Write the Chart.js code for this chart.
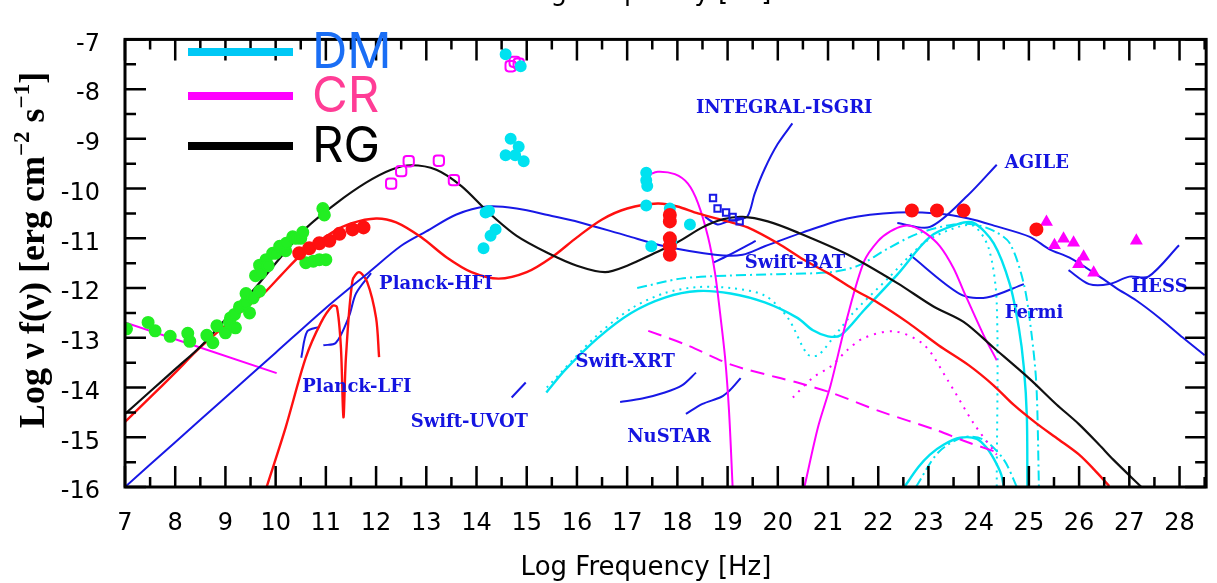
<!DOCTYPE html>
<html>
<head>
<meta charset="utf-8">
<script src="https://cdn.jsdelivr.net/npm/chart.js@4.4.1/dist/chart.umd.min.js"></script>
<style>
  html, body { margin: 0; padding: 0; background: #fff; }
</style>
</head>
<body>
<canvas id="sed" width="1217" height="583"></canvas>
<script>
// model curves, [log nu, log nu f(nu)]
const blackCurve = [[7,-14.53],[7.5,-14.08],[8,-13.63],[8.5,-13.18],[9,-12.63],[9.54,-12.06],[10,-11.5],[10.6,-10.8],[11.2,-10.3],[11.8,-9.88],[12.3,-9.62],[12.7,-9.53],[13.2,-9.62],[13.7,-9.95],[14.24,-10.48],[14.8,-10.95],[15.43,-11.3],[16,-11.55],[16.56,-11.68],[17,-11.55],[17.5,-11.32],[18,-11.08],[18.5,-10.78],[18.9,-10.62],[19.3,-10.57],[19.8,-10.66],[20.39,-10.88],[21.38,-11.32],[22.38,-11.9],[23.1,-12.37],[23.7,-12.68],[24.3,-13.2],[25.02,-13.83],[25.55,-14.34],[26,-14.74],[26.4,-15.15],[26.68,-15.45],[27.24,-16]];
const redCurve = [[7,-14.69],[7.5,-14.2],[8,-13.7],[8.49,-13.2],[9,-12.75],[9.5,-12.32],[9.81,-12.06],[10.1,-11.75],[10.51,-11.33],[11.13,-10.88],[11.5,-10.7],[12,-10.6],[12.4,-10.68],[12.9,-10.98],[13.4,-11.38],[13.9,-11.68],[14.44,-11.81],[15,-11.68],[15.5,-11.38],[16,-10.98],[16.5,-10.62],[17,-10.4],[17.61,-10.3],[18,-10.36],[18.41,-10.5],[19,-10.66],[19.4,-10.78],[20,-11.1],[20.5,-11.42],[21,-11.7],[21.5,-12.02],[22,-12.3],[22.6,-12.7],[23.2,-13.15],[23.8,-13.55],[24.3,-13.96],[24.7,-14.35],[25.15,-14.72],[25.6,-15.05],[26,-15.35],[26.3,-15.65],[26.6,-15.98]];
const blueCurve = [[7,-16],[8,-15.1],[9,-14.2],[10,-13.3],[11,-12.4],[11.86,-11.68],[12.5,-11.15],[13,-10.86],[13.6,-10.52],[14.2,-10.36],[14.8,-10.4],[15.5,-10.55],[16.03,-10.67],[17,-10.95],[17.75,-11.16],[18.75,-11.33],[19.3,-11.33],[19.74,-11.16],[20.5,-10.88],[21.38,-10.6],[22.38,-10.48],[23.17,-10.5],[23.8,-10.6],[24.36,-10.76],[25.02,-10.97],[25.41,-11.22],[25.81,-11.39],[26.35,-11.73],[26.74,-12.0],[27.14,-12.25],[27.6,-12.6],[28.07,-13.0],[28.5,-13.35]];
const redPeaks = [[9.82,-16],[10.2,-14.8],[10.6,-13.4],[10.9,-12.7],[11.13,-12.36],[11.22,-12.38],[11.3,-13.2],[11.35,-14.6],[11.4,-13.39],[11.53,-11.85],[11.66,-11.68],[11.82,-11.87],[12.0,-12.6],[12.06,-13.39]];

// CR components
const crRadio = [[7,-12.69],[10.02,-13.71]];
const crXray = [[17.42,-9.73],[17.61,-9.66],[17.95,-9.71],[18.21,-9.9],[18.41,-10.29],[18.61,-10.97],[18.75,-11.7],[18.85,-12.5],[18.95,-13.4],[19.03,-14.5],[19.1,-16]];
const crGamma = [[20.53,-16],[20.8,-14.8],[21.05,-13.96],[21.38,-12.6],[21.72,-11.46],[22.0,-11.05],[22.24,-10.86],[22.5,-10.75],[22.71,-10.77],[22.95,-10.9],[23.23,-11.16],[23.5,-11.6],[23.7,-12.06],[24.1,-12.95],[24.36,-13.45]];
const crDotted = [[20.3,-14.2],[20.7,-13.8],[21.05,-13.58],[21.38,-13.25],[21.72,-13.0],[22.32,-12.87],[22.91,-13.14],[23.37,-13.83],[23.9,-14.72],[24.36,-15.35]];
const crDashed = [[17.42,-12.86],[18.2,-13.15],[19.07,-13.54],[20.0,-13.8],[20.39,-13.9],[21.05,-14.1],[22.04,-14.48],[23.17,-14.86],[23.7,-15.07],[24.36,-15.3]];

// DM components
const dmSolid = [[15.39,-14.1],[15.77,-13.64],[16.42,-13.0],[17.08,-12.5],[17.75,-12.19],[18.41,-12.06],[19.06,-12.11],[19.74,-12.29],[20.39,-12.6],[20.7,-12.85],[21.0,-12.97],[21.25,-12.95],[21.72,-12.44],[22.38,-11.73],[23.03,-10.97],[23.57,-10.72],[23.9,-10.69],[24.3,-11.1],[24.62,-11.92],[24.8,-12.8],[24.9,-13.6],[24.96,-14.6],[24.97,-16]];
const dmDotted = [[15.4,-14.0],[16.4,-12.95],[17.1,-12.4],[17.75,-12.1],[18.41,-11.98],[19.06,-12.0],[19.74,-12.15],[20.2,-12.6],[20.59,-13.33],[20.8,-13.35],[21.1,-13.0],[21.5,-12.5],[22.2,-11.8],[22.9,-11.1],[23.5,-10.8],[23.9,-10.75],[24.2,-11.2],[24.36,-12.3],[24.36,-16]];
const dmDashDot = [[17.2,-12.0],[18.07,-11.81],[19.0,-11.75],[20.0,-11.72],[21.05,-11.68],[21.6,-11.55],[22.2,-11.2],[22.8,-10.9],[23.5,-10.72],[23.9,-10.72],[24.3,-10.85],[24.62,-11.1],[24.9,-11.92],[25.05,-12.9],[25.15,-13.96],[25.2,-16]];
const dmLowSolid = [[22.52,-16],[22.8,-15.6],[23.03,-15.35],[23.3,-15.15],[23.63,-15.01],[23.96,-15.03],[24.15,-15.2],[24.3,-15.43],[24.45,-15.75],[24.5,-16]];
const dmLowDashDot = [[22.75,-16],[23.2,-15.3],[23.7,-15.0],[24.1,-15.05],[24.5,-15.45],[24.76,-16]];

// instrument sensitivities
const isgri = [[18.55,-10.57],[18.8,-10.72],[19.0,-10.66],[19.2,-10.63],[19.4,-10.55],[19.54,-10.1],[19.74,-9.6],[20.0,-9.1],[20.29,-8.69]];
const bat = [[18.71,-11.49],[19.0,-11.35],[19.56,-11.05]];
const agile = [[22.38,-10.69],[23.03,-10.77],[23.77,-10.15],[24.36,-9.52]];
const fermi = [[22.63,-11.33],[23.63,-12.12],[24.16,-12.19],[24.9,-11.92]];
const hess = [[25.79,-11.64],[26.2,-11.92],[26.6,-11.92],[27.0,-11.77],[27.38,-11.77],[27.99,-11.14]];
const planckHfi = [[10.95,-13.15],[11.2,-13.1],[11.46,-12.57],[11.6,-12.11],[11.9,-11.7]];
const planckLfi = [[10.51,-13.4],[10.63,-12.87],[10.87,-12.78]];
const uvot = [[14.7,-14.2],[14.98,-13.9]];
const xrt = [[16.86,-14.29],[17.3,-14.22],[17.75,-14.1],[18.1,-13.95],[18.37,-13.7]];
const nustar = [[18.17,-14.53],[18.5,-14.33],[18.87,-14.19],[19.05,-14.05],[19.26,-13.81]];

// observed points
const greenPoints = [[7.03,-12.82],[7.46,-12.69],[7.6,-12.86],[7.9,-12.97],[8.25,-12.91],[8.29,-13.07],[8.63,-12.95],[8.75,-13.1],[8.83,-12.76],[9.0,-12.9],[9.08,-12.69],[9.1,-12.6],[9.18,-12.53],[9.2,-12.8],[9.28,-12.38],[9.4,-12.3],[9.41,-12.11],[9.48,-12.5],[9.55,-12.2],[9.68,-12.06],[9.6,-11.75],[9.68,-11.54],[9.7,-11.7],[9.81,-11.43],[9.85,-11.55],[9.94,-11.3],[10.0,-11.3],[10.08,-11.16],[10.2,-11.25],[10.21,-11.1],[10.34,-10.97],[10.4,-11.0],[10.5,-11.0],[10.54,-10.88],[10.94,-10.4],[10.97,-10.53],[10.6,-11.49],[10.75,-11.46],[10.87,-11.43],[11.0,-11.43]];
const redPoints = [[10.47,-11.3],[10.67,-11.2],[10.87,-11.1],[11.07,-11.05],[11.27,-10.91],[11.53,-10.82],[11.75,-10.78],[17.85,-10.53],[17.85,-10.66],[17.85,-11.0],[17.85,-11.16],[17.85,-11.33],[22.67,-10.44],[23.17,-10.44],[23.7,-10.44],[25.15,-10.82]];
const magentaOpen = [[12.3,-9.9],[12.5,-9.65],[12.65,-9.45],[13.25,-9.44],[13.55,-9.83],[14.68,-7.54],[14.84,-7.49],[14.76,-7.45]];
const magentaTriangles = [[25.35,-10.67],[25.51,-11.14],[25.69,-11.01],[25.89,-11.09],[25.99,-11.52],[26.09,-11.37],[26.29,-11.69],[27.14,-11.05]];
const cyanPoints = [[14.58,-7.3],[14.88,-7.54],[14.68,-9.0],[14.58,-9.33],[14.84,-9.16],[14.77,-9.33],[14.94,-9.45],[14.18,-10.48],[14.25,-10.45],[14.38,-10.82],[14.28,-10.95],[14.14,-11.2],[17.38,-9.68],[17.38,-9.83],[17.4,-9.95],[17.38,-10.34],[17.85,-10.4],[18.25,-10.72],[17.48,-11.16],[17.88,-11.06]];
const bluePoints = [[18.71,-10.19],[18.8,-10.4],[18.97,-10.48],[19.1,-10.57],[19.24,-10.66]];

const legendLabels = ['DM', 'CR', 'RG'];
const legendLineColors = ['#00c8f5', '#ff00ff', '#000000'];
const legendTextColors = ['#1a6ef5', '#ff3d96', '#000000'];

const instrumentNames = ['INTEGRAL-ISGRI', 'AGILE', 'Swift-BAT', 'Planck-HFI', 'Planck-LFI', 'Swift-UVOT', 'Swift-XRT', 'NuSTAR', 'Fermi', 'HESS'];
const instrumentAnchors = [[18.37,-8.38],[24.52,-9.49],[19.34,-11.5],[12.06,-11.92],[10.53,-14.0],[12.69,-14.69],[15.97,-13.5],[17.0,-15.0],[24.52,-12.51],[27.04,-11.98]];

const xTitle = 'Log Frequency [Hz]';

const CYAN = '#00e2f0', MAGENTA = '#ff00ff', BLUE = '#1818e6', RED = '#ff1010';

const toXY = pts => pts.map(([x, y]) => ({ x, y }));

function line(data, color, width, dash) {
    return {
        data: toXY(data),
        showLine: true,
        borderColor: color,
        borderWidth: width,
        borderDash: dash || [],
        pointRadius: 0,
        tension: 0.3,
        fill: false
    };
}

function points(data, style, radius, fillColor, edgeColor) {
    return {
        data: toXY(data),
        showLine: false,
        pointStyle: style,
        pointRadius: radius,
        backgroundColor: fillColor,
        borderColor: edgeColor,
        borderWidth: 2
    };
}

// frame, inward ticks, labels, legend and titles
const sedDecor = {
    id: 'sedDecor',
    afterDatasetsDraw(chart) {
        const ctx = chart.ctx;
        const xs = chart.scales.x, ys = chart.scales.y;
        const { left, right, top, bottom } = chart.chartArea;
        ctx.save();

        ctx.fillStyle = '#1414e0';
        ctx.font = 'bold 18px "DejaVu Serif"';
        ctx.textBaseline = 'middle';
        ctx.textAlign = 'left';
        instrumentNames.forEach((name, i) => {
            const [vx, vy] = instrumentAnchors[i];
            ctx.fillText(name, xs.getPixelForValue(vx), ys.getPixelForValue(vy));
        });

        ctx.strokeStyle = '#000';
        ctx.lineWidth = 2.5;
        ctx.beginPath();
        for (let v = 7; v <= 28.5; v += 0.5) {
            const px = xs.getPixelForValue(v);
            const len = Number.isInteger(v) ? 21 : 10;
            ctx.moveTo(px, bottom); ctx.lineTo(px, bottom - len);
            ctx.moveTo(px, top); ctx.lineTo(px, top + len);
        }
        for (let v = -16; v <= -7; v += 0.5) {
            const py = ys.getPixelForValue(v);
            const len = Number.isInteger(v) ? 21 : 11;
            ctx.moveTo(left, py); ctx.lineTo(left + len, py);
            ctx.moveTo(right, py); ctx.lineTo(right - len, py);
        }
        ctx.stroke();
        ctx.lineWidth = 3;
        ctx.strokeRect(left, top, right - left, bottom - top);

        // legend
        const rows = [52, 96, 146];
        ctx.lineWidth = 8;
        ctx.font = '49px Inter';
        ctx.textBaseline = 'alphabetic';
        legendLabels.forEach((lab, i) => {
            ctx.strokeStyle = legendLineColors[i];
            ctx.beginPath();
            ctx.moveTo(188, rows[i]);
            ctx.lineTo(293, rows[i]);
            ctx.stroke();
            ctx.fillStyle = legendTextColors[i];
            ctx.fillText(lab, 312, rows[i] + 16);
        });

        // axis titles
        ctx.fillStyle = '#000';
        ctx.font = '26px "DejaVu Sans"';
        ctx.textAlign = 'center';
        ctx.fillText(xTitle, 646, 575);
        ctx.fillText(xTitle, 646, 0);

        const big = 'bold 36px "Liberation Serif"';
        const small = 'bold 23px "Liberation Serif"';
        const parts = [['Log ν f(ν) [erg cm', big, 0], ['\u22122', small, -15], [' s', big, 0], ['\u22121', small, -15], [']', big, 0]];
        let total = 0;
        parts.forEach(p => { ctx.font = p[1]; total += ctx.measureText(p[0]).width; });
        ctx.translate(44, 250);
        ctx.rotate(-Math.PI / 2);
        ctx.textAlign = 'left';
        let cx = -total / 2;
        parts.forEach(p => {
            ctx.font = p[1];
            ctx.fillText(p[0], cx, p[2]);
            cx += ctx.measureText(p[0]).width;
        });
        ctx.restore();
    }
};

new Chart(document.getElementById('sed'), {
    type: 'scatter',
    data: {
        datasets: [
            points(redPoints, 'circle', 6, RED, RED),
            points(greenPoints, 'circle', 5.5, '#22ee22', '#22ee22'),
            points(cyanPoints, 'circle', 5, CYAN, CYAN),
            points(magentaOpen, 'rectRounded', 6, 'rgba(255,255,255,0)', MAGENTA),
            points(magentaTriangles, 'triangle', 5.5, MAGENTA, MAGENTA),
            points(bluePoints, 'rect', 4.5, 'rgba(255,255,255,0)', BLUE),
            line(blackCurve, '#111', 2.2),
            line(redCurve, RED, 2.4),
            line(blueCurve, BLUE, 2),
            line(redPeaks, RED, 2.4),
            line(crRadio, MAGENTA, 2),
            line(crXray, MAGENTA, 2),
            line(crGamma, MAGENTA, 2),
            line(crDotted, MAGENTA, 2, [2, 6]),
            line(crDashed, MAGENTA, 2, [14, 8]),
            line(dmSolid, CYAN, 2.4),
            line(dmDotted, CYAN, 2, [2, 5]),
            line(dmDashDot, CYAN, 2, [10, 4, 2, 4]),
            line(dmLowSolid, CYAN, 2.4),
            line(dmLowDashDot, CYAN, 2, [10, 4, 2, 4]),
            line(isgri, BLUE, 2),
            line(bat, BLUE, 2),
            line(agile, BLUE, 2),
            line(fermi, BLUE, 2),
            line(hess, BLUE, 2),
            line(planckHfi, BLUE, 2),
            line(planckLfi, BLUE, 2),
            line(uvot, BLUE, 2),
            line(xrt, BLUE, 2),
            line(nustar, BLUE, 2)
        ]
    },
    options: {
        responsive: false,
        animation: false,
        layout: { padding: { top: 13, right: 7, left: 0, bottom: 0 } },
        plugins: {
            legend: { display: false },
            tooltip: { enabled: false }
        },
        scales: {
            x: {
                type: 'linear',
                min: 7,
                max: 28.53,
                grid: { display: false, drawTicks: false },
                border: { display: false },
                ticks: {
                    stepSize: 1,
                    includeBounds: false,
                    padding: 22,
                    color: '#000',
                    font: { family: 'DejaVu Sans', size: 24 },
                    maxRotation: 0
                },
                afterFit: scale => { scale.height = 96; }
            },
            y: {
                type: 'linear',
                min: -16,
                max: -7,
                grid: { display: false, drawTicks: false },
                border: { display: false },
                ticks: {
                    stepSize: 1,
                    includeBounds: false,
                    padding: 25,
                    labelOffset: 5,
                    color: '#000',
                    font: { family: 'DejaVu Sans', size: 24 }
                },
                afterFit: scale => { scale.width = 125; }
            }
        }
    },
    plugins: [sedDecor]
});
</script>
</body>
</html>
